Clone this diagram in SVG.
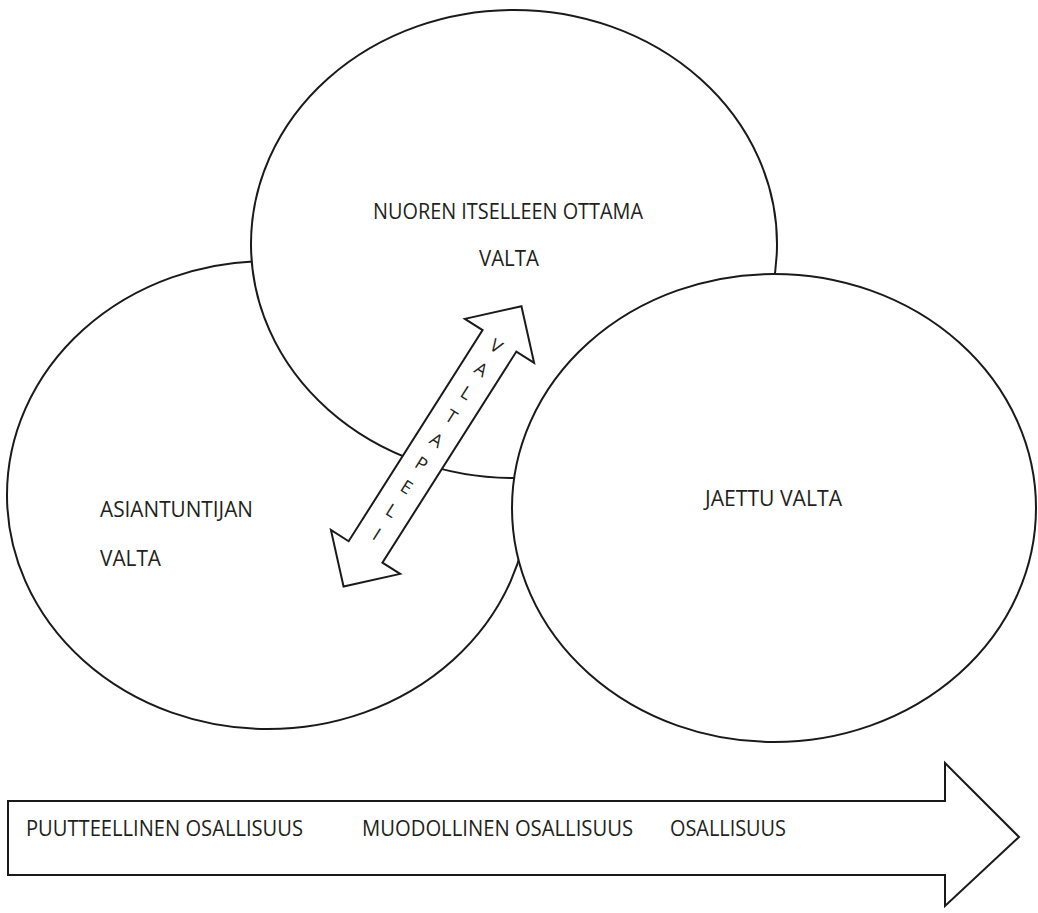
<svg xmlns="http://www.w3.org/2000/svg" width="1038" height="913" viewBox="0 0 1038 913">
<style>
.shape{fill:#fff;stroke:#1a1a1a;stroke-width:2}
.lbl{font-family:"Open Sans","Liberation Sans",sans-serif;font-size:21px;fill:#231f20}
.vp{font-family:"Open Sans","Liberation Sans",sans-serif;font-size:18px;fill:#231f20}
</style>
<rect width="1038" height="913" fill="#fff"/>
<g id="asiantuntijan">
<ellipse class="shape" cx="268" cy="495" rx="261" ry="234"/>
<text class="lbl" x="100" y="517" textLength="153" lengthAdjust="spacingAndGlyphs">ASIANTUNTIJAN</text>
<text class="lbl" x="100" y="566" textLength="61" lengthAdjust="spacingAndGlyphs">VALTA</text>
</g>
<g id="nuoren">
<ellipse class="shape" cx="514" cy="244" rx="263" ry="234"/>
<text class="lbl" x="508" y="219" text-anchor="middle" textLength="270" lengthAdjust="spacingAndGlyphs">NUOREN ITSELLEEN OTTAMA</text>
<text class="lbl" x="509" y="266" text-anchor="middle" textLength="60" lengthAdjust="spacingAndGlyphs">VALTA</text>
</g>
<g id="jaettu">
<ellipse class="shape" cx="774" cy="508" rx="262" ry="234"/>
<text class="lbl" x="705" y="506" textLength="137" lengthAdjust="spacingAndGlyphs">JAETTU VALTA</text>
</g>
<g id="connectors">
<g id="valtapeli" transform="translate(432.5,446.4) rotate(-57.6)">
<polygon class="shape" points="166,0 125,41 125,20 -125,20 -125,41 -166,0 -125,-41 -125,-20 125,-20 125,-41"/>
<text class="vp" transform="rotate(90)" x="0 0 0 0 0 0 0 0 0" y="-112.6 -84.7 -56.9 -29 -1.1 26.8 54.6 82.5 110.4" text-anchor="middle">VALTAPELI</text>
</g>
<g id="osallisuus">
<polygon class="shape" points="8,801 945,801 945,763 1019,837 945,906 945,875 8,875"/>
<text class="lbl" x="26" y="836" textLength="277" lengthAdjust="spacingAndGlyphs">PUUTTEELLINEN OSALLISUUS</text>
<text class="lbl" x="362" y="836" textLength="271" lengthAdjust="spacingAndGlyphs">MUODOLLINEN OSALLISUUS</text>
<text class="lbl" x="670" y="836" textLength="116" lengthAdjust="spacingAndGlyphs">OSALLISUUS</text>
</g>
</g>
</svg>
